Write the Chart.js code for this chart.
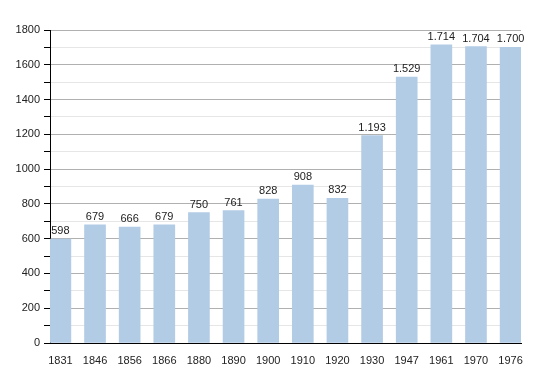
<!DOCTYPE html>
<html>
<head>
<meta charset="utf-8">
<script src="https://cdn.jsdelivr.net/npm/chart.js@4"></script>
<style>
  body { margin: 0; background: #fff; }
  #wrap { width: 550px; height: 373px; }
</style>
</head>
<body>
<div id="wrap"><canvas id="chart"></canvas></div>
<script>
const years = ["1831", "1846", "1856", "1866", "1880", "1890", "1900", "1910", "1920", "1930", "1947", "1961", "1970", "1976"];
const population = [598, 679, 666, 679, 750, 761, 828, 908, 832, 1193, 1529, 1714, 1704, 1700];

// thousands with a dot, like the original
const fmt = (v) => String(v).replace(/\B(?=(\d{3})+(?!\d))/g, ".");

// value labels above each bar
const barLabels = {
    id: "barLabels",
    afterDatasetsDraw(chart) {
        const ctx = chart.ctx;
        const meta = chart.getDatasetMeta(0);
        ctx.save();
        ctx.font = "11px 'Liberation Sans', Arial, sans-serif";
        ctx.fillStyle = "#222";
        ctx.textAlign = "center";
        ctx.textBaseline = "alphabetic";
        meta.data.forEach((bar, i) => {
            ctx.fillText(fmt(population[i]), bar.x, bar.y - 5);
        });
        ctx.restore();
    },
};

new Chart(document.getElementById("chart"), {
    type: "bar",
    data: {
        datasets: [{
            data: population.map((v, i) => ({ x: i, y: v })),
            backgroundColor: "#b3cce6",
            borderWidth: 0,
            barThickness: 21,
        }],
    },
    options: {
        responsive: true,
        maintainAspectRatio: false,
        animation: false,
        layout: { padding: { left: 0, right: 29, top: 30, bottom: 0 } },
        plugins: {
            legend: { display: false },
            tooltip: { enabled: false },
        },
        scales: {
            x: {
                type: "linear",
                offset: false,
                min: -0.3,
                max: 13.3,
                afterBuildTicks: (axis) => {
                    axis.ticks = years.map((_, i) => ({ value: i }));
                },
                afterFit: (scale) => { scale.height = 30; },
                grid: { display: false, offset: false },
                border: { display: true, color: "#000", width: 1 },
                ticks: {
                    autoSkip: false,
                    maxRotation: 0,
                    padding: 3,
                    color: "#222",
                    font: { family: "'Liberation Sans', Arial, sans-serif", size: 11 },
                    callback: (v) => years[v],
                },
            },
            y: {
                min: 0,
                max: 1800,
                afterFit: (scale) => { scale.width = 50; },
                grid: {
                    color: (c) => (c.tick && c.tick.value % 200 === 0 ? "#b0b0b0" : "#e6e6e6"),
                    tickColor: "#000",
                    tickLength: 6,
                },
                border: { display: true, color: "#000", width: 1 },
                ticks: {
                    stepSize: 100,
                    padding: 4,
                    color: "#222",
                    font: { family: "'Liberation Sans', Arial, sans-serif", size: 11 },
                    callback: (v) => (v % 200 === 0 ? v : ""),
                },
            },
        },
    },
    plugins: [barLabels],
});
</script>
</body>
</html>
